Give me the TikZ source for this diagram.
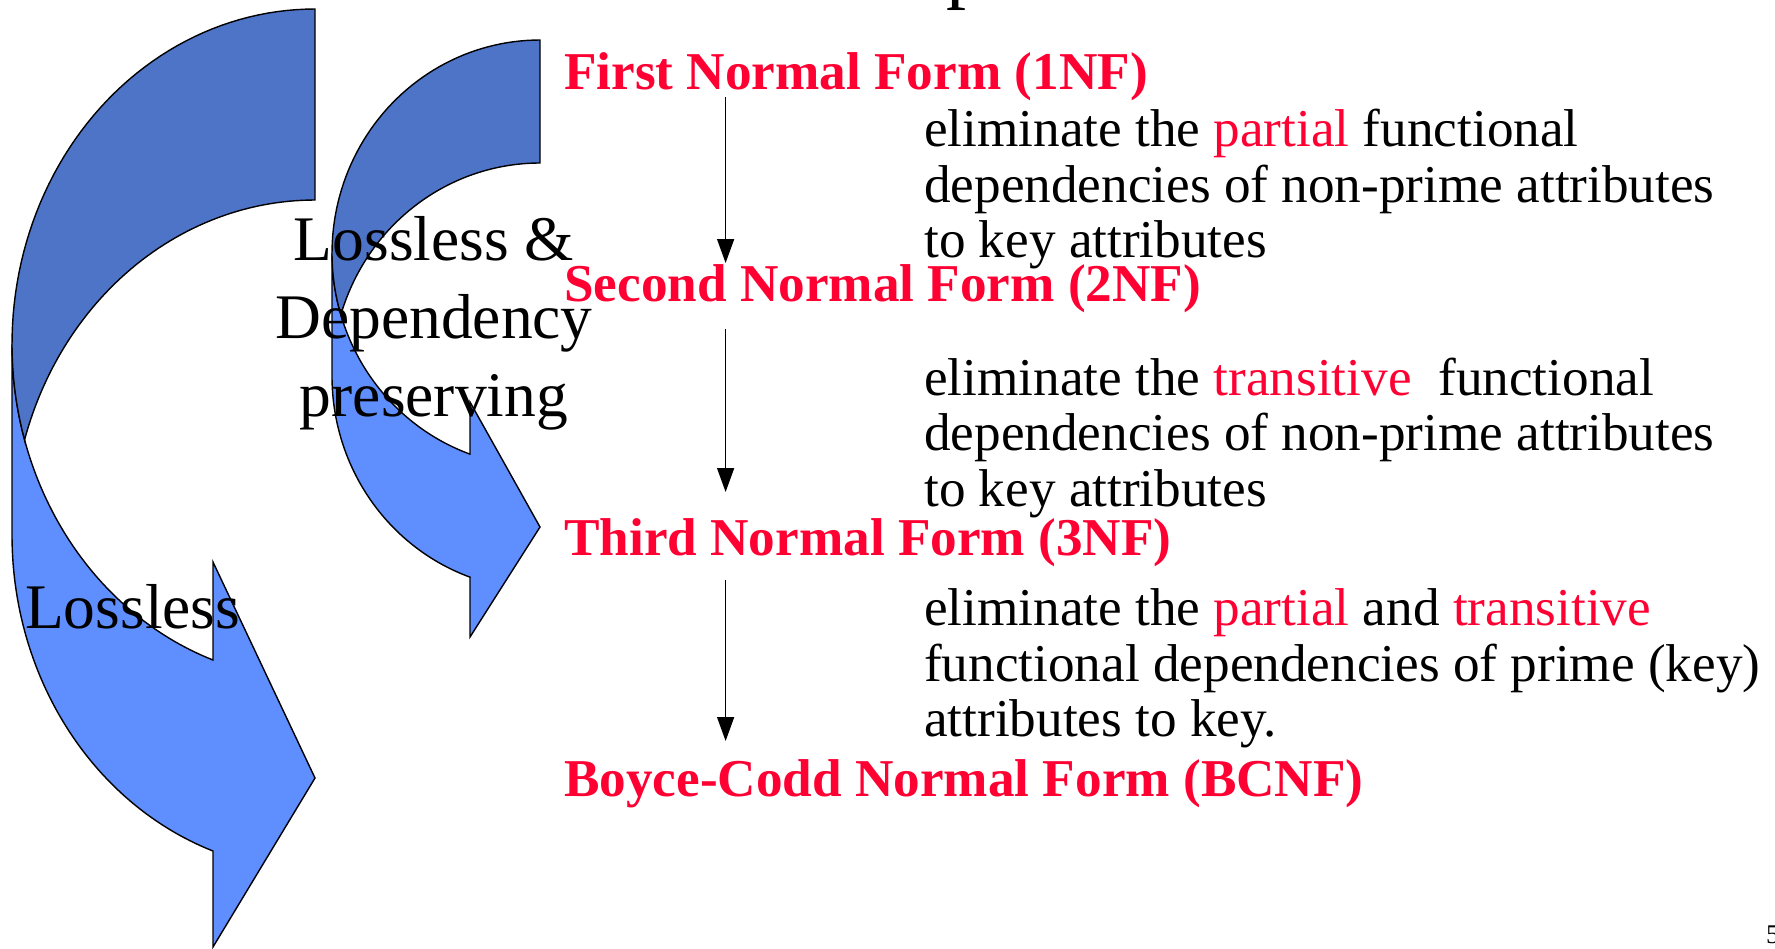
\documentclass[tikz,border=0pt]{standalone}
\usepackage{fontspec}
\setmainfont{Liberation Serif}
\usetikzlibrary{arrows.meta}
\definecolor{nfred}{HTML}{FF0033}
\definecolor{arrdark}{HTML}{4E74C8}
\definecolor{arrlight}{HTML}{5F8EFF}
\begin{document}
\begin{tikzpicture}[x=1pt,y=-1pt,
  nf/.style={anchor=base west, inner sep=0pt, text=nfred, font=\fontsize{53.2}{60}\selectfont\bfseries},
  desc/.style={anchor=base west, inner sep=0pt, font=\fontsize{53.2}{60}\selectfont},
  lbl/.style={anchor=base, inner sep=0pt, font=\fontsize{63.5}{70}\selectfont},
  flow/.style={line width=1.6pt, -{Triangle[length=24pt,width=17pt]}},
  front/.style={fill=arrlight, draw=black, line width=1.4pt, line join=miter},
  back/.style={fill=arrdark, draw=black, line width=1.4pt, line join=miter}]
\useasboundingbox (0,0) rectangle (1775,948);
\clip (0,0) rectangle (1775,948);

% big curved arrow
\path[front] plot[domain=180:109.67, samples=60] ({315+303*cos(\x)},{344.3+335.3*sin(\x)})
  -- (213,562) -- (315,778) -- (213,947) -- (213,851.2)
  -- plot[domain=109.67:180, samples=60] ({315+303*cos(\x)},{535.3+335.3*sin(\x)}) -- cycle;
\path[back] plot[domain=270:196.55, samples=60] ({315+303*cos(\x)},{535.3+335.3*sin(\x)})
  -- plot[domain=163.45:270, samples=60] ({315+303*cos(\x)},{344.3+335.3*sin(\x)}) -- cycle;

% small curved arrow
\path[front] plot[domain=180:109.66, samples=60] ({540+208*cos(\x)},{253.3+213.3*sin(\x)})
  -- (470,402) -- (540,527) -- (470,637) -- (470,577.2)
  -- plot[domain=109.66:180, samples=60] ({540+208*cos(\x)},{376.3+213.3*sin(\x)}) -- cycle;
\path[back] plot[domain=270:196.76, samples=60] ({540+208*cos(\x)},{376.3+213.3*sin(\x)})
  -- plot[domain=163.24:270, samples=60] ({540+208*cos(\x)},{253.3+213.3*sin(\x)}) -- cycle;

% cut-off title and page number
\node[anchor=base west, inner sep=0pt, font=\fontsize{80}{90}\selectfont] (ttl) at (946,-6.4) {p};
\node[anchor=base west, inner sep=0pt, font=\fontsize{27}{30}\selectfont] (pg) at (1766,943) {5};

% left labels
\node[lbl] (l1) at (434,260) {Lossless \&};
\node[lbl] (l2) at (434,338) {Dependency};
\node[lbl] (l3) at (434,416) {preserving};
\node[anchor=base west, inner sep=0pt, font=\fontsize{63.5}{70}\selectfont] (l4) at (25,628) {Lossless};

% normal forms
\node[nf] (nf1) at (564,89) {First Normal Form (1NF)};
\node[nf] (nf2) at (564,301) {Second Normal Form (2NF)};
\node[nf] (nf3) at (564,555) {Third Normal Form (3NF)};
\node[nf] (nf4) at (564,796) {Boyce-Codd Normal Form (BCNF)};

% descriptions
\node[desc] (d11) at (924,146.5) {eliminate the {\color{nfred}partial} functional};
\node[desc] (d12) at (924,202) {dependencies of non-prime attributes};
\node[desc] (d13) at (924,257.5) {to key attributes};
\node[desc] (d21) at (924,395) {eliminate the {\color{nfred}transitive}\ \ functional};
\node[desc] (d22) at (924,450.5) {dependencies of non-prime attributes};
\node[desc] (d23) at (924,506) {to key attributes};
\node[desc] (d31) at (924,625.5) {eliminate the {\color{nfred}partial} and {\color{nfred}transitive}};
\node[desc] (d32) at (924,681) {functional dependencies of prime (key)};
\node[desc] (d33) at (924,736.5) {attributes to key.};

% flow arrows
\coordinate (a1s) at (725.6,97);
\coordinate (a1e) at (725.6,263);
\coordinate (a2s) at (725.6,329);
\coordinate (a2e) at (725.6,492);
\coordinate (a3s) at (725.6,580);
\coordinate (a3e) at (725.6,741);
\draw[flow] (a1s) -- (a1e);
\draw[flow] (a2s) -- (a2e);
\draw[flow] (a3s) -- (a3e);
\end{tikzpicture}
\end{document}
